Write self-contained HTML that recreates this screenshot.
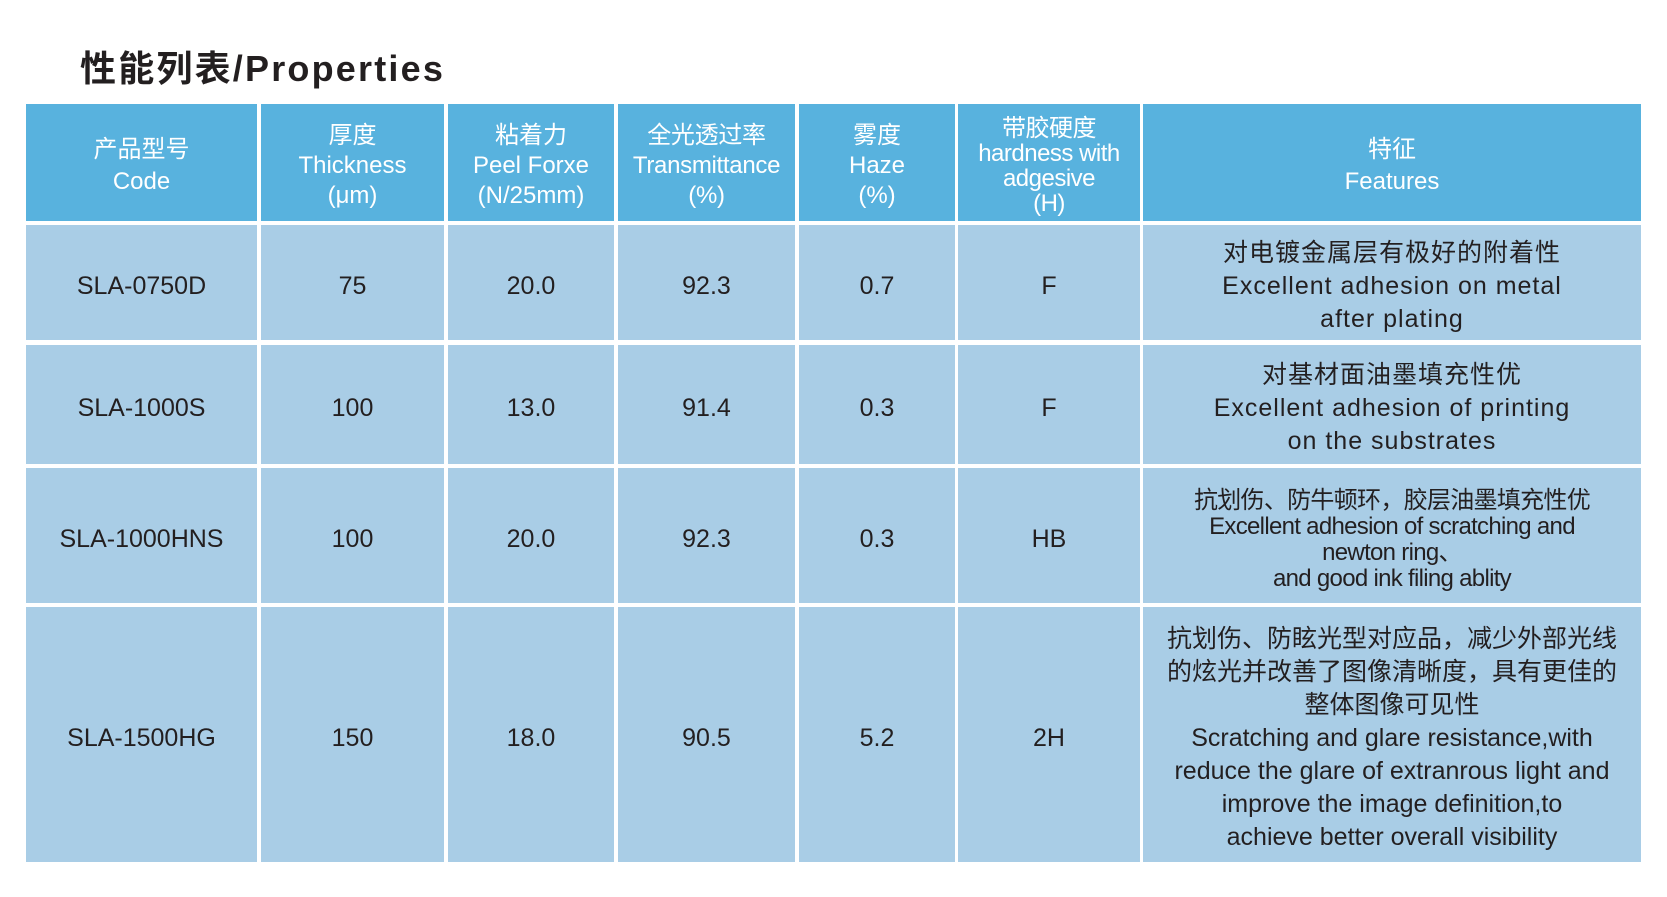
<!DOCTYPE html>
<html><head><meta charset="utf-8"><style>
html,body{margin:0;padding:0;background:#fff;width:1667px;height:897px;overflow:hidden;}
body{position:relative;font-family:"Liberation Sans","Noto Sans CJK SC",sans-serif;}
.t{position:absolute;left:80px;top:40px;font-size:36px;font-weight:bold;color:#231f20;white-space:nowrap;letter-spacing:2.2px;}
.c{position:absolute;display:flex;align-items:center;justify-content:center;text-align:center;white-space:nowrap;color:#231f20;font-size:25px;padding-top:8px;box-sizing:border-box;}
.h{background:#58b2de;color:#fff;font-size:24px;padding-top:6px;}
.b{background:#a9cde6;}
</style></head><body>
<div class="t">性能列表/Properties</div>

<!-- header -->
<div class="c h" style="left:26px;top:104px;width:231px;height:117px;line-height:32px;">产品型号<br>Code</div>
<div class="c h" style="left:261px;top:104px;width:183px;height:117px;line-height:30px;">厚度<br>Thickness<br>(μm)</div>
<div class="c h" style="left:448px;top:104px;width:166px;height:117px;line-height:30px;">粘着力<br>Peel Forxe<br>(N/25mm)</div>
<div class="c h" style="left:618px;top:104px;width:177px;height:117px;line-height:30px;letter-spacing:-0.3px;">全光透过率<br>Transmittance<br>(%)</div>
<div class="c h" style="left:799px;top:104px;width:156px;height:117px;line-height:30px;">雾度<br>Haze<br>(%)</div>
<div class="c h" style="left:958px;top:104px;width:182px;height:117px;line-height:25px;letter-spacing:-0.5px;">带胶硬度<br>hardness with<br>adgesive<br>(H)</div>
<div class="c h" style="left:1143px;top:104px;width:498px;height:117px;line-height:32px;">特征<br>Features</div>

<!-- row1 -->
<div class="c b" style="left:26px;top:225px;width:231px;height:115px;">SLA-0750D</div>
<div class="c b" style="left:261px;top:225px;width:183px;height:115px;">75</div>
<div class="c b" style="left:448px;top:225px;width:166px;height:115px;">20.0</div>
<div class="c b" style="left:618px;top:225px;width:177px;height:115px;">92.3</div>
<div class="c b" style="left:799px;top:225px;width:156px;height:115px;">0.7</div>
<div class="c b" style="left:958px;top:225px;width:182px;height:115px;">F</div>
<div class="c b" style="left:1143px;top:225px;width:498px;height:115px;line-height:33px;letter-spacing:1px;">对电镀金属层有极好的附着性<br>Excellent adhesion on metal<br>after plating</div>

<!-- row2 -->
<div class="c b" style="left:26px;top:345px;width:231px;height:119px;">SLA-1000S</div>
<div class="c b" style="left:261px;top:345px;width:183px;height:119px;">100</div>
<div class="c b" style="left:448px;top:345px;width:166px;height:119px;">13.0</div>
<div class="c b" style="left:618px;top:345px;width:177px;height:119px;">91.4</div>
<div class="c b" style="left:799px;top:345px;width:156px;height:119px;">0.3</div>
<div class="c b" style="left:958px;top:345px;width:182px;height:119px;">F</div>
<div class="c b" style="left:1143px;top:345px;width:498px;height:119px;line-height:33px;letter-spacing:1px;">对基材面油墨填充性优<br>Excellent adhesion of printing<br>on the substrates</div>

<!-- row3 -->
<div class="c b" style="left:26px;top:468px;width:231px;height:135px;">SLA-1000HNS</div>
<div class="c b" style="left:261px;top:468px;width:183px;height:135px;">100</div>
<div class="c b" style="left:448px;top:468px;width:166px;height:135px;">20.0</div>
<div class="c b" style="left:618px;top:468px;width:177px;height:135px;">92.3</div>
<div class="c b" style="left:799px;top:468px;width:156px;height:135px;">0.3</div>
<div class="c b" style="left:958px;top:468px;width:182px;height:135px;">HB</div>
<div class="c b" style="left:1143px;top:468px;width:498px;height:135px;line-height:26px;letter-spacing:-0.7px;font-size:24px;">抗划伤、防牛顿环，胶层油墨填充性优<br>Excellent adhesion of scratching and<br>newton ring、<br>and good ink filing ablity</div>

<!-- row4 -->
<div class="c b" style="left:26px;top:607px;width:231px;height:255px;">SLA-1500HG</div>
<div class="c b" style="left:261px;top:607px;width:183px;height:255px;">150</div>
<div class="c b" style="left:448px;top:607px;width:166px;height:255px;">18.0</div>
<div class="c b" style="left:618px;top:607px;width:177px;height:255px;">90.5</div>
<div class="c b" style="left:799px;top:607px;width:156px;height:255px;">5.2</div>
<div class="c b" style="left:958px;top:607px;width:182px;height:255px;">2H</div>
<div class="c b" style="left:1143px;top:607px;width:498px;height:255px;line-height:33px;letter-spacing:0px;font-size:25px;">抗划伤、防眩光型对应品，减少外部光线<br>的炫光并改善了图像清晰度，具有更佳的<br>整体图像可见性<br>Scratching and glare resistance,with<br>reduce the glare of extranrous light and<br>improve the image definition,to<br>achieve better overall visibility</div>
</body></html>
